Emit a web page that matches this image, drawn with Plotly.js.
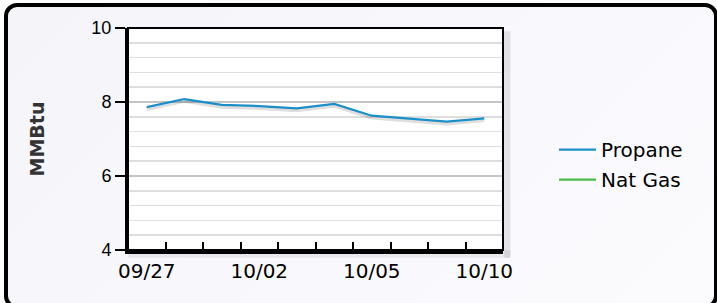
<!DOCTYPE html>
<html>
<head>
<meta charset="utf-8">
<script src="https://cdn.plot.ly/plotly-3.0.1.min.js"></script>
<style>
  html, body { margin: 0; padding: 0; width: 717px; height: 303px; overflow: hidden; background: #ffffff; }
  #frame { position: absolute; left: 4px; top: 3px; width: 706px; height: 298px; border: 4px solid #000; border-radius: 13px;
           background: linear-gradient(135deg, #f4f4f9 0%, #f9f9fd 60%, #fbfbfe 100%); }
  #chart { position: absolute; left: 0; top: 0; width: 717px; height: 303px; }
</style>
</head>
<body>
<div id="frame"></div>
<div id="chart"></div>
<script>
const categories = ["09/27", "09/28", "10/01", "10/02", "10/03", "10/04", "10/05", "10/08", "10/09", "10/10"];
const propane = [7.86, 8.08, 7.92, 7.89, 7.83, 7.95, 7.63, 7.54, 7.47, 7.56];
const natGas = [null, null, null, null, null, null, null, null, null, null];
const tickLabels = ["09/27", "10/02", "10/05", "10/10"];
const yTicks = [4, 6, 8, 10];

const xIdx = categories.map((c, i) => i);
const tickIdx = tickLabels.map(t => categories.indexOf(t));

const traces = [
  { x: xIdx, y: propane.map(v => v - 0.05), type: 'scatter', mode: 'lines', showlegend: false, hoverinfo: 'skip',
    line: { color: 'rgba(0,0,0,0.13)', width: 4 } },
  { x: xIdx, y: propane, name: 'Propane', type: 'scatter', mode: 'lines', legendgroup: 'a',
    line: { color: '#1b8fc8', width: 2.2 } },
  { x: xIdx, y: natGas, name: 'Nat Gas', type: 'scatter', mode: 'lines', legendgroup: 'b',
    line: { color: '#4cb848', width: 2.2 } }
];

const layout = {
  width: 717, height: 303,
  margin: { l: 128, r: 214, t: 28, b: 53, pad: 0 },
  paper_bgcolor: 'rgba(0,0,0,0)',
  plot_bgcolor: '#ffffff',
  showlegend: true,
  legend: { x: 1.136, xanchor: 'left', y: 0.385, yanchor: 'middle', bgcolor: 'rgba(0,0,0,0)',
            font: { family: 'DejaVu Sans', size: 20, color: '#000' }, traceorder: 'grouped', tracegroupgap: 1, itemwidth: 37 },
  xaxis: {
    type: 'linear', range: [-0.5, categories.length - 0.5],
    tickvals: tickIdx, ticktext: tickLabels, ticks: '', showgrid: false, zeroline: false,
    tickfont: { family: 'DejaVu Sans', size: 20, color: '#000' },
    showline: true, linecolor: '#000', linewidth: 4,
    minor: { tick0: -0.5, dtick: 1, ticks: 'inside', ticklen: 8, tickwidth: 2, tickcolor: '#000', showgrid: false },
    fixedrange: true
  },
  yaxis: {
    range: [4, 10], tickvals: yTicks, ticks: 'outside', ticklen: 10, tickwidth: 2, tickcolor: '#000',
    tickfont: { family: 'Liberation Sans', size: 18, color: '#000' },
    showgrid: true, gridcolor: '#c4c4c4', gridwidth: 1.5, zeroline: false,
    showline: true, linecolor: '#000', linewidth: 3,
    minor: { tick0: 4, dtick: 0.4, showgrid: true, gridcolor: '#dedede', gridwidth: 1.5, ticks: '' },
    title: { text: 'MMBtu', font: { family: 'DejaVu Sans', size: 19, color: '#333', weight: 'bold' }, standoff: 42 },
    fixedrange: true
  },
  shapes: [
    { type: 'rect', xref: 'paper', yref: 'paper', x0: 1.003, x1: 1.02, y0: -0.035, y1: 0.985, layer: 'below',
      fillcolor: 'rgba(0,0,0,0.09)', line: { width: 0 } },
    { type: 'rect', xref: 'paper', yref: 'paper', x0: 0, x1: 1.02, y0: -0.035, y1: 0, layer: 'below',
      fillcolor: 'rgba(0,0,0,0.06)', line: { width: 0 } },
    { type: 'rect', xref: 'paper', yref: 'paper', x0: 0, x1: 1, y0: 0, y1: 1, layer: 'above',
      fillcolor: 'rgba(0,0,0,0)', line: { color: '#000', width: 2 } }
  ]
};

Plotly.newPlot('chart', traces, layout, { displayModeBar: false, staticPlot: true });
</script>
</body>
</html>
